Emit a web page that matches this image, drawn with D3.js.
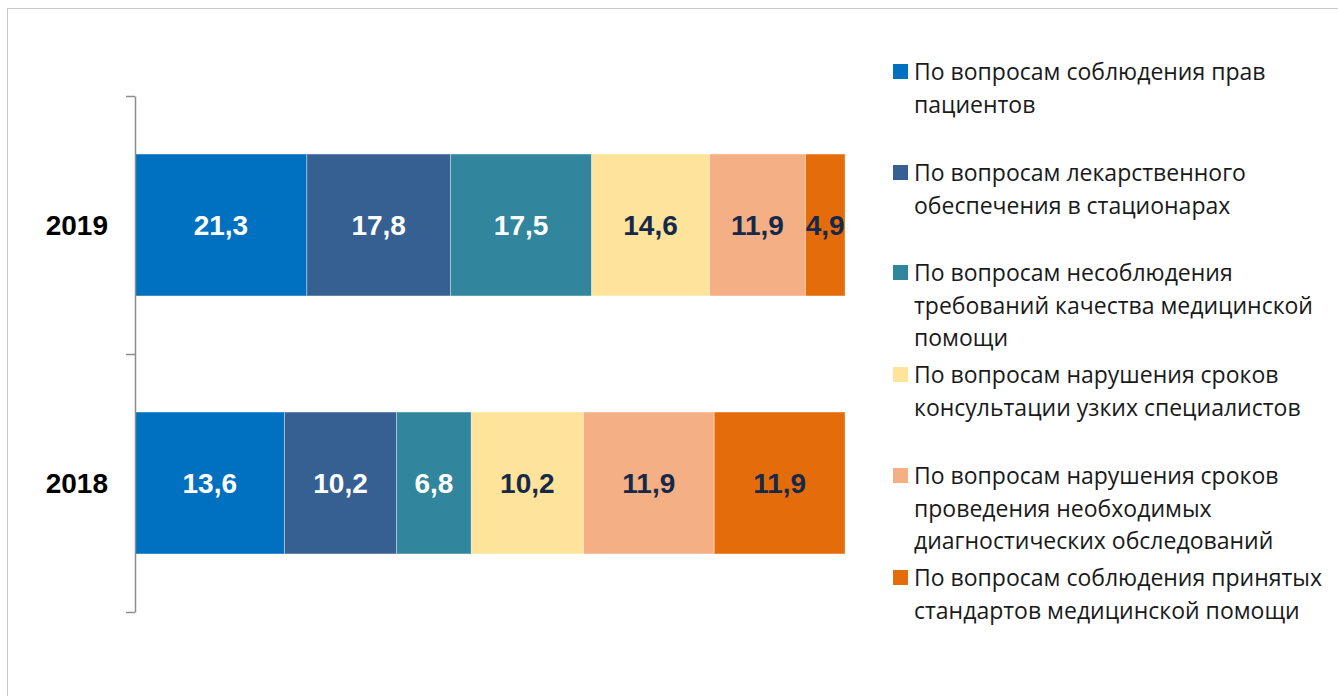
<!DOCTYPE html>
<html><head><meta charset="utf-8">
<script src="https://cdn.jsdelivr.net/npm/d3@7"></script>
<style>html,body{margin:0;padding:0;background:#fff;overflow:hidden}</style>
</head><body>
<svg id="chart" width="1338" height="696"></svg>
<script>
const categories = ["2019", "2018"];
const seriesNames = [
  "По вопросам соблюдения прав пациентов",
  "По вопросам лекарственного обеспечения в стационарах",
  "По вопросам несоблюдения требований качества медицинской помощи",
  "По вопросам нарушения сроков консультации узких специалистов",
  "По вопросам нарушения сроков проведения необходимых диагностических обследований",
  "По вопросам соблюдения принятых стандартов медицинской помощи"
];
const legendLines = [
  ["По вопросам соблюдения прав", "пациентов"],
  ["По вопросам лекарственного", "обеспечения в стационарах"],
  ["По вопросам несоблюдения", "требований качества медицинской", "помощи"],
  ["По вопросам нарушения сроков", "консультации узких специалистов"],
  ["По вопросам нарушения сроков", "проведения необходимых", "диагностических обследований"],
  ["По вопросам соблюдения принятых", "стандартов медицинской помощи"]
];
const values2019 = [21.3, 17.8, 17.5, 14.6, 11.9, 4.9];
const values2018 = [13.6, 10.2, 6.8, 10.2, 11.9, 11.9];
const valueLabels2019 = ["21,3", "17,8", "17,5", "14,6", "11,9", "4,9"];
const valueLabels2018 = ["13,6", "10,2", "6,8", "10,2", "11,9", "11,9"];
const colors = ["#0070C0", "#376092", "#31859C", "#FEE39A", "#F4B084", "#E46C0A"];
const labelColors = ["#ffffff", "#ffffff", "#ffffff", "#16294A", "#16294A", "#16294A"];

const svg = d3.select("#chart");

// outer frame
svg.append("rect").attr("x", 7.5).attr("y", 8.5).attr("width", 1500).attr("height", 1000)
  .attr("fill", "none").attr("stroke", "#c9c9c9").attr("stroke-width", 1);

const data = [
  {cat: "2019", vals: values2019, labels: valueLabels2019},
  {cat: "2018", vals: values2018, labels: valueLabels2018}
];

const x = d3.scaleLinear().domain([0, 1]).range([135, 845]);
const y = d3.scaleBand().domain(categories).range([96, 612]).paddingInner(0.45).paddingOuter(0.225);

data.forEach(d => {
  const total = d3.sum(d.vals);
  let cum = 0;
  const segs = d.vals.map((v, i) => {
    const s = {i, x0: cum / total, x1: (cum + v) / total, label: d.labels[i]};
    cum += v;
    return s;
  });
  const g = svg.append("g");
  g.selectAll("rect").data(segs).join("rect")
    .attr("x", s => x(s.x0))
    .attr("y", y(d.cat))
    .attr("width", s => x(s.x1) - x(s.x0))
    .attr("height", y.bandwidth())
    .attr("fill", s => colors[s.i])
    .attr("stroke", "rgba(255,255,255,0.35)")
    .attr("stroke-width", 1);
  g.selectAll("text").data(segs).join("text")
    .attr("x", s => (x(s.x0) + x(s.x1)) / 2)
    .attr("y", y(d.cat) + y.bandwidth() / 2)
    .attr("dy", "0.36em")
    .attr("text-anchor", "middle")
    .attr("font-family", "'Liberation Sans', Arial, sans-serif")
    .attr("font-weight", "bold")
    .attr("font-size", 28)
    .attr("fill", s => labelColors[s.i])
    .text(s => s.label);
});

// category axis with ticks at band boundaries
const yb = d3.scaleLinear().domain([0, 2]).range([96, 612]);
const axis = svg.append("g").attr("transform", "translate(135,0)")
  .call(d3.axisLeft(yb).tickValues([0, 1, 2]).tickSize(9).tickSizeOuter(0).tickFormat(""));
axis.select(".domain").attr("stroke", "#8c8c8c").attr("stroke-width", 1.5);
axis.selectAll(".tick line").attr("stroke", "#8c8c8c").attr("stroke-width", 1.5);

svg.append("g").selectAll("text").data(categories).join("text")
  .attr("x", 108)
  .attr("y", c => y(c) + y.bandwidth() / 2)
  .attr("dy", "0.36em")
  .attr("text-anchor", "end")
  .attr("font-family", "'Liberation Sans', Arial, sans-serif")
  .attr("font-weight", "bold")
  .attr("font-size", 28)
  .attr("fill", "#000")
  .text(c => c);

// legend
const legendTop = [72, 173, 273, 375, 476, 578];
const lineH = 32.6;
const lg = svg.append("g");
seriesNames.forEach((name, i) => {
  const item = lg.append("g");
  item.append("rect").attr("x", 893).attr("y", legendTop[i] - 8).attr("width", 15).attr("height", 15)
    .attr("fill", colors[i]);
  const t = item.append("text")
    .attr("font-family", "'Open Sans', 'Noto Sans', sans-serif")
    .attr("font-size", 23)
    .attr("fill", "#1a1a1a");
  legendLines[i].forEach((ln, k) => {
    t.append("tspan").attr("x", 914).attr("y", legendTop[i] + k * lineH).attr("dy", "0.36em").text(ln);
  });
});
</script>
</body></html>
